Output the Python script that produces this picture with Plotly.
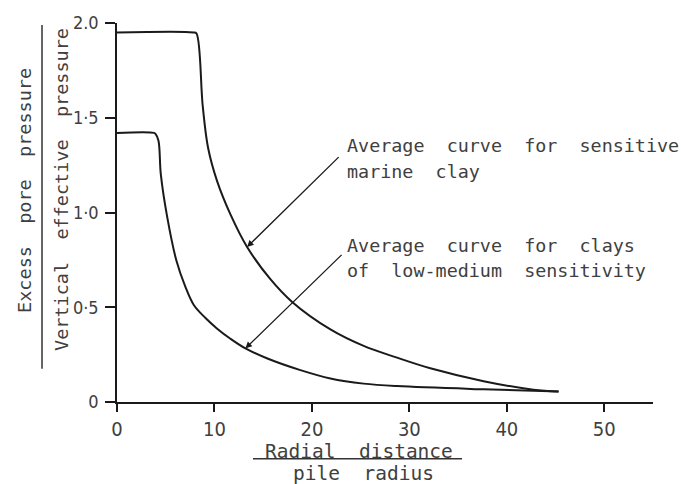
import plotly.graph_objects as go

# Radial distance / pile radius vs. excess pore pressure ratio
marine_x = [0, 7.85, 8.15, 8.8, 9.35, 10.28, 11.64, 13.35, 15.74, 17.97,
            21.9, 25.31, 28.74, 32.15, 37.62, 42.72, 45.31]
marine_y = [1.95, 1.95, 1.945, 1.56, 1.34, 1.164, 0.99, 0.818, 0.648, 0.528,
            0.383, 0.296, 0.234, 0.178, 0.110, 0.065, 0.056]

lowmed_x = [0, 3.8, 3.95, 4.25, 4.5, 5.15, 6.1, 7.0, 7.88, 9.08, 10.28, 11.64, 13.18,
            15.5, 18.82, 21.9, 25.31, 28.74, 37.62, 45.31]
lowmed_y = [1.42, 1.42, 1.415, 1.38, 1.2, 0.977, 0.745, 0.61, 0.512, 0.443, 0.387, 0.334, 0.283,
            0.228, 0.168, 0.124, 0.097, 0.084, 0.067, 0.056]

x_ticks = [0, 10, 20, 30, 40, 50]
y_ticks = [0, 0.5, 1.0, 1.5, 2.0]
y_tick_text = ["0", "0·5", "1·0", "1·5", "2.0"]

label_marine = ["Average  curve  for  sensitive", "marine  clay"]
label_lowmed = ["Average  curve  for  clays", "of  low-medium  sensitivity"]

FONT = "DejaVu Sans Mono"
NARROW = "DejaVu Sans Condensed, Liberation Sans Narrow, Roboto, sans-serif"
INK = "#1a1a1a"
TXT = "#404040"

fig = go.Figure()
for xs, ys in [(marine_x, marine_y), (lowmed_x, lowmed_y)]:
    fig.add_trace(go.Scatter(x=xs, y=ys, mode="lines",
                             line=dict(color=INK, width=2, shape="spline", smoothing=1.0),
                             showlegend=False, hoverinfo="skip"))

annotations = []
# leader arrows pointing at each curve
marine_tip = marine_x.index(13.35)
lowmed_tip = lowmed_x.index(13.18)
annotations.append(dict(x=marine_x[marine_tip], y=marine_y[marine_tip], xref="x", yref="y",
                        ax=22.9, ay=1.30, axref="x", ayref="y", text="",
                        showarrow=True, arrowhead=2, arrowsize=1.0, arrowwidth=1.3,
                        arrowcolor=INK))
annotations.append(dict(x=lowmed_x[lowmed_tip], y=lowmed_y[lowmed_tip], xref="x", yref="y",
                        ax=23.2, ay=0.784, axref="x", ayref="y", text="",
                        showarrow=True, arrowhead=2, arrowsize=1.0, arrowwidth=1.3,
                        arrowcolor=INK))

for text, yv in zip(label_marine + label_lowmed, [1.353, 1.219, 0.824, 0.695]):
    annotations.append(dict(x=23.44, y=yv, xref="x", yref="y", text=text,
                            showarrow=False, xanchor="left", yanchor="middle",
                            font=dict(family=FONT, size=18.4, color=TXT)))

# axis titles written as fractions
annotations += [
    dict(x=-0.1716, y=0.557, xref="paper", yref="paper", text="Excess  pore  pressure",
         textangle=-90, showarrow=False, xanchor="center", yanchor="middle",
         font=dict(family=FONT, size=18.5, color=TXT)),
    dict(x=-0.1045, y=0.562, xref="paper", yref="paper", text="Vertical  effective  pressure",
         textangle=-90, showarrow=False, xanchor="center", yanchor="middle",
         font=dict(family=FONT, size=18.5, color=TXT)),
    dict(x=0.4515, y=-0.1295, xref="paper", yref="paper", text="Radial  distance",
         showarrow=False, xanchor="center", yanchor="middle",
         font=dict(family=FONT, size=19.5, color=TXT)),
    dict(x=0.4608, y=-0.189, xref="paper", yref="paper", text="pile  radius",
         showarrow=False, xanchor="center", yanchor="middle",
         font=dict(family=FONT, size=19.5, color=TXT)),
]

shapes = [
    dict(type="line", xref="paper", yref="paper", x0=-0.1399, x1=-0.1399, y0=0.088, y1=0.9948,
         line=dict(color="#333333", width=1.5)),
    dict(type="line", xref="paper", yref="paper", x0=0.2537, x1=0.6437, y0=-0.150, y1=-0.150,
         line=dict(color="#333333", width=1.5)),
]

fig.update_layout(
    width=681, height=484, autosize=False,
    margin=dict(l=117, r=28, t=16, b=82, pad=0),
    paper_bgcolor="white", plot_bgcolor="white",
    annotations=annotations, shapes=shapes,
    xaxis=dict(range=[0, 55], tickvals=x_ticks, ticktext=[str(v) for v in x_ticks],
               showgrid=False, zeroline=False, showline=True, linecolor=INK, linewidth=1.5,
               ticks="outside", ticklen=8, tickwidth=1.5, tickcolor=INK,
               tickfont=dict(family=NARROW, size=20, color=TXT)),
    yaxis=dict(range=[0, 2.0], tickvals=y_ticks, ticktext=y_tick_text,
               showgrid=False, zeroline=False, showline=True, linecolor=INK, linewidth=1.5,
               ticks="outside", ticklen=10, tickwidth=1.5, tickcolor=INK,
               ticklabelstandoff=3,
               tickfont=dict(family=NARROW, size=18, color=TXT)),
)

fig.write_html("out.html")
